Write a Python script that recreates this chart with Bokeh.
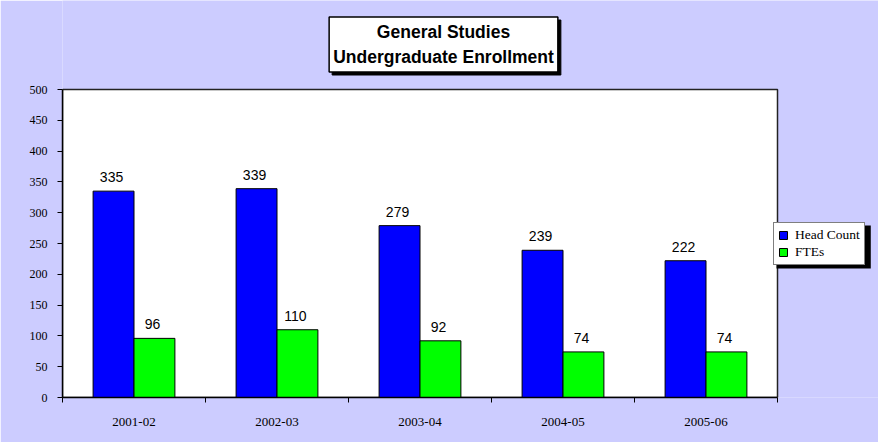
from bokeh.plotting import figure
from bokeh.models import (ColumnDataSource, Range1d, FixedTicker, Legend, LegendItem,
                          Label, LinearAxis)
from bokeh.transform import dodge
from bokeh.core.properties import value
from bokeh.embed import file_html
from bokeh.resources import INLINE

# ---- data ----
categories = ["2001-02", "2002-03", "2003-04", "2004-05", "2005-06"]
head_count = [335, 339, 279, 239, 222]
ftes = [96, 110, 92, 74, 74]
y_ticks = [0, 50, 100, 150, 200, 250, 300, 350, 400, 450, 500]
title_lines = ["General Studies", "Undergraduate Enrollment"]
series_names = ["Head Count", "FTEs"]

BG = "#CCCCFF"
BAR_W = 0.286

n = len(categories)
y_max = y_ticks[-1]
centers = [i + 0.5 for i in range(n)]
src = ColumnDataSource(dict(
    x=centers,
    head=head_count,
    fte=ftes,
    head_txt=[str(v) for v in head_count],
    fte_txt=[str(v) for v in ftes],
))

# frame spans the whole area right of the y axis and above the x axis;
# the white plotting area is a bounded region inside it
W, H = 878, 442
LEFT, BOTTOM = 62, 45
AREA_W, AREA_H = 715, 308          # pixel size of the white plotting area
frame_w, frame_h = W - LEFT, H - BOTTOM
x_end = n * frame_w / AREA_W
y_end = y_max * frame_h / AREA_H

p = figure(width=W, height=H, output_backend="svg", toolbar_location=None,
           x_range=Range1d(0, x_end), y_range=Range1d(0, y_end),
           min_border_left=LEFT, min_border_right=0, min_border_top=0, min_border_bottom=BOTTOM,
           x_axis_type=None, y_axis_type=None)
p.border_fill_color = BG
p.background_fill_color = BG
p.outline_line_color = None
p.xgrid.visible = False
p.ygrid.visible = False

# white plotting area with dark border
p.quad(left=0, right=n, bottom=0, top=y_max, fill_color="white",
       line_color="#222222", line_width=1.5)

# axes
xaxis = LinearAxis(ticker=FixedTicker(ticks=centers, minor_ticks=list(range(n + 1))),
                   bounds=(0, n))
xaxis.major_label_overrides = {c: lab for c, lab in zip(centers, categories)}
xaxis.major_tick_out = 0
xaxis.major_tick_in = 0
xaxis.minor_tick_out = 5
xaxis.minor_tick_in = 0
xaxis.minor_tick_line_color = "black"
xaxis.axis_line_color = "black"
xaxis.axis_line_width = 1.5
xaxis.major_label_standoff = 15
xaxis.major_label_text_font = "Liberation Serif"
xaxis.major_label_text_font_size = "13px"
xaxis.major_label_text_color = "black"
p.add_layout(xaxis, "below")

yaxis = LinearAxis(ticker=FixedTicker(ticks=y_ticks), bounds=(0, y_max))
yaxis.major_tick_out = 5
yaxis.major_tick_in = 0
yaxis.minor_tick_out = 0
yaxis.minor_tick_in = 0
yaxis.axis_line_color = "black"
yaxis.axis_line_width = 1.5
yaxis.major_tick_line_color = "black"
yaxis.major_label_standoff = 10
yaxis.major_label_text_font = "Liberation Serif"
yaxis.major_label_text_font_size = "12px"
yaxis.major_label_text_color = "black"
p.add_layout(yaxis, "left")

# bars
r1 = p.vbar(x=dodge("x", -BAR_W / 2, range=p.x_range), top="head", width=BAR_W, source=src,
            fill_color="#0000FF", line_color="black", line_width=1)
r2 = p.vbar(x=dodge("x", BAR_W / 2, range=p.x_range), top="fte", width=BAR_W, source=src,
            fill_color="#00FF00", line_color="black", line_width=1)

# value labels
for col, txt, off in (("head", "head_txt", -BAR_W / 2), ("fte", "fte_txt", BAR_W / 2)):
    p.text(x=dodge("x", off, range=p.x_range), y=col, text=txt, source=src,
           text_align="center", text_baseline="bottom", y_offset=-9, x_offset=-2,
           text_font=value("Liberation Sans"), text_font_size="14px", text_color="black")

# title box with shadow (screen units relative to frame)
title_text = "\n".join(title_lines)
common = dict(x=381, y=353, x_units="screen", y_units="screen", text=title_text,
              text_align="center", text_baseline="middle",
              text_font="Liberation Sans", text_font_style="bold", text_font_size="17.5px",
              text_line_height=1.25, padding=(4, 5))
shadow = Label(x_offset=3, y_offset=-3, text_color="black",
               background_fill_color="black", border_line_color="black", **common)
title_lbl = Label(background_fill_color="white", border_line_color="black",
                  border_line_width=1.5, text_color="black", **common)
p.add_layout(shadow)
p.add_layout(title_lbl)

# legend shadow
leg_shadow = Label(x=714, y=172, x_units="screen", y_units="screen", text="\u00a0",
                   text_font_size="1px", text_color="black", text_align="left",
                   text_baseline="top", background_fill_color="black", padding=(47, 21))
p.add_layout(leg_shadow)

legend = Legend(items=[LegendItem(label=series_names[0], renderers=[r1]),
                       LegendItem(label=series_names[1], renderers=[r2])],
                location=(711, 132), orientation="vertical")
legend.background_fill_color = "white"
legend.background_fill_alpha = 1.0
legend.border_line_color = "black"
legend.border_line_width = 1
legend.label_text_font = "Liberation Serif"
legend.label_text_font_size = "13.5px"
legend.label_text_color = "black"
legend.glyph_width = 10
legend.glyph_height = 10
legend.label_standoff = 7
legend.label_height = 14
legend.spacing = 1
legend.padding = 4
legend.margin = 0
p.add_layout(legend, "center")

open("out.html", "w").write(file_html(p, INLINE))
